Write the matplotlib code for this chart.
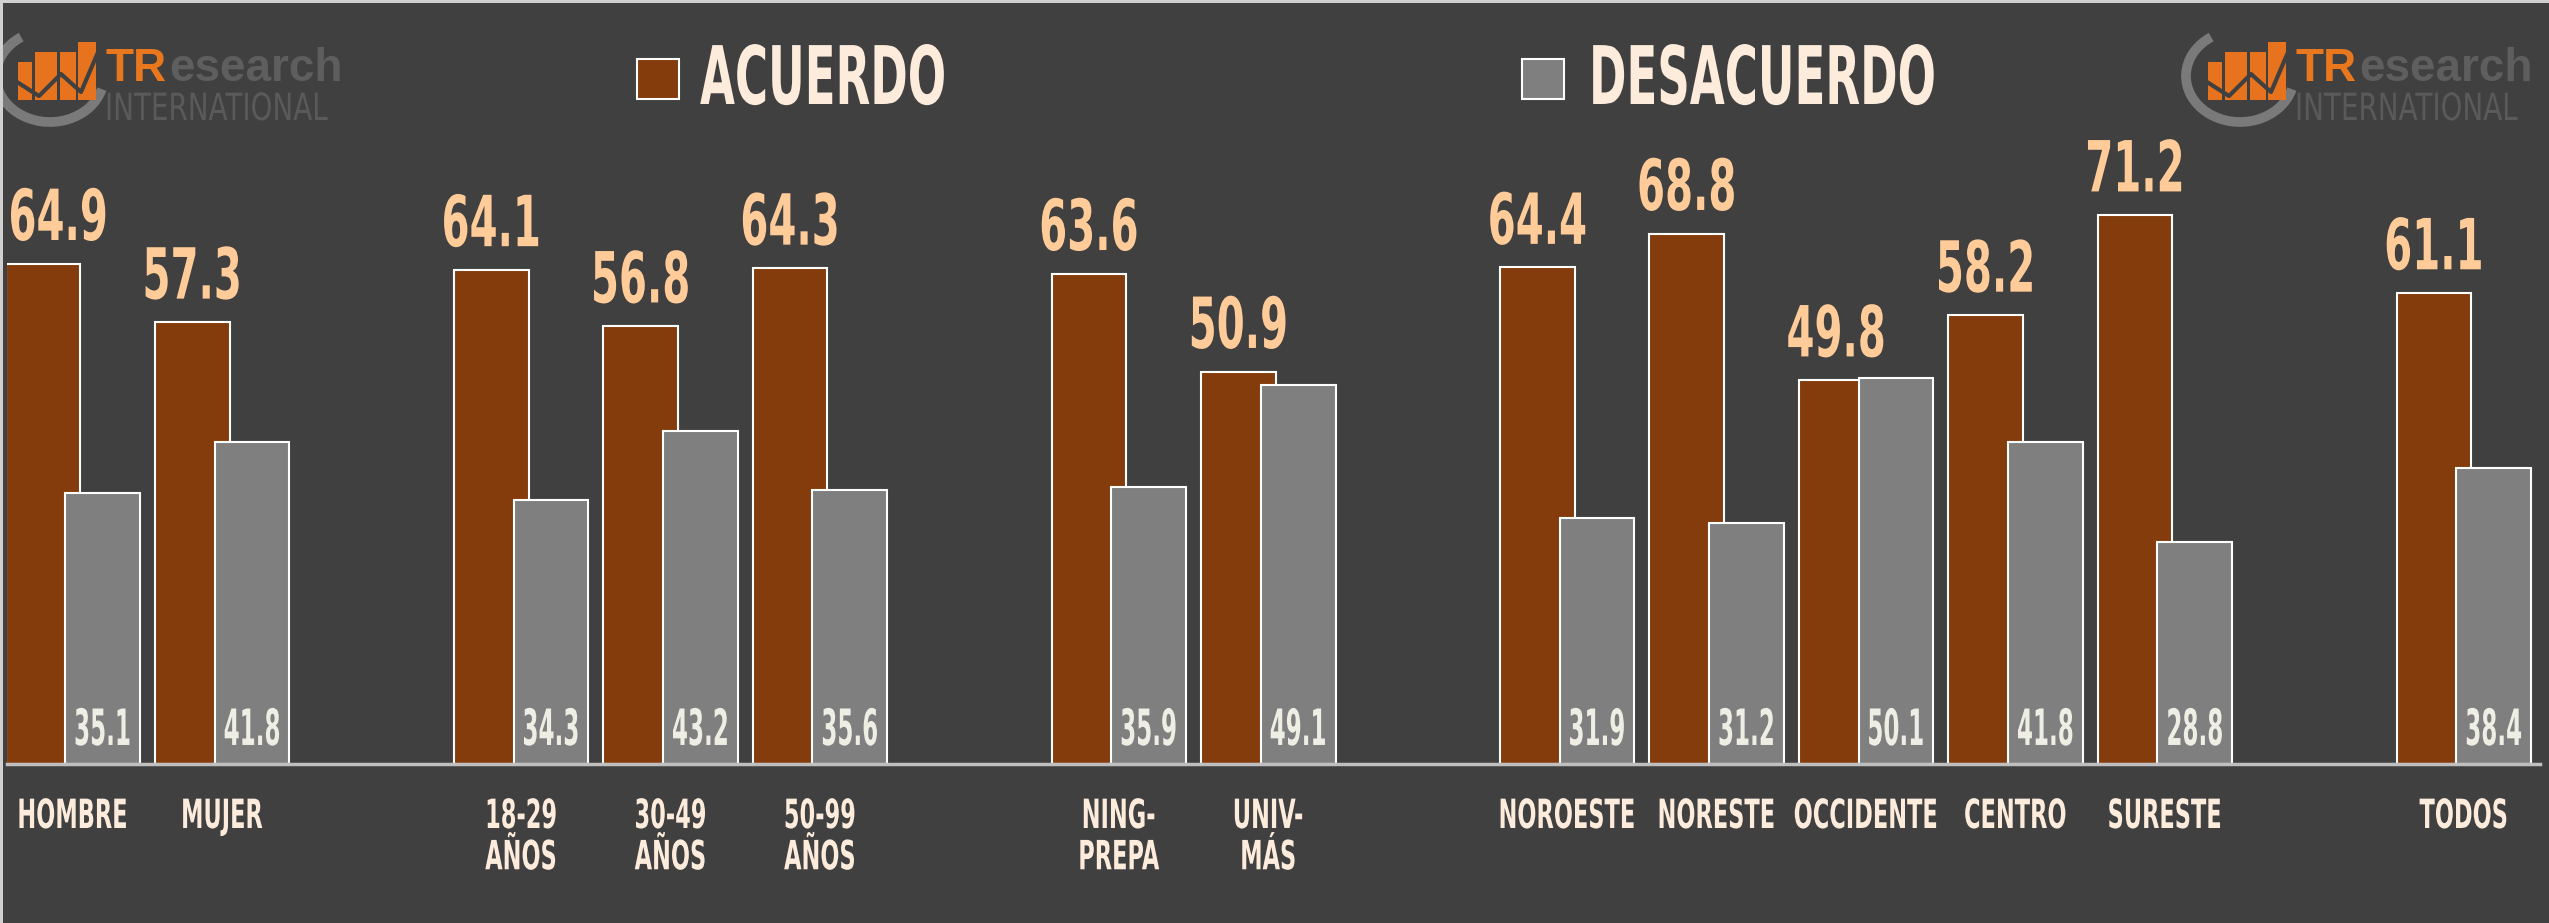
import matplotlib
matplotlib.use('Agg')
import matplotlib.pyplot as plt
from matplotlib.patches import Rectangle, Arc
from matplotlib.patheffects import AbstractPathEffect
from matplotlib.transforms import Affine2D
import numpy as np

# data
categories = ['HOMBRE', 'MUJER', '18-29\nAÑOS', '30-49\nAÑOS', '50-99\nAÑOS',
              'NING-\nPREPA', 'UNIV-\nMÁS', 'NOROESTE', 'NORESTE', 'OCCIDENTE',
              'CENTRO', 'SURESTE', 'TODOS']
slots = [0, 1, 3, 4, 5, 7, 8, 10, 11, 12, 13, 14, 16]
acuerdo = [64.9, 57.3, 64.1, 56.8, 64.3, 63.6, 50.9, 64.4, 68.8, 49.8, 58.2, 71.2, 61.1]
desacuerdo = [35.1, 41.8, 34.3, 43.2, 35.6, 35.9, 49.1, 31.9, 31.2, 50.1, 41.8, 28.8, 38.4]
series_names = ['ACUERDO', 'DESACUERDO']

W, H = 2549, 923
BG = '#404040'
BROWN = '#843C0C'
GRAY = '#7F7F7F'
PEACH = '#FFCC99'
CREAM = '#FDEBDC'
FONT = 'DejaVu Sans'


class Tall(AbstractPathEffect):
    """Stretch glyphs upward from their baseline (the original uses a tall condensed face)."""

    def __init__(self, sy):
        super().__init__()
        self.sy = sy

    def draw_path(self, renderer, gc, tpath, affine, rgbFace=None):
        by = affine.transform_point((0, 0))[1]
        aff = affine + Affine2D().translate(0, -by).scale(1, self.sy).translate(0, by)
        renderer.draw_path(gc, tpath, aff, rgbFace)


def fx(x):
    return x / W


def fy(y):
    return 1 - y / H


fig = plt.figure(figsize=(W / 100, H / 100), dpi=100, facecolor=BG)

# plot area: baseline at y=764 px, ~7.71 px per unit
ax = fig.add_axes([fx(7), fy(764), fx(2540) - fx(7), 764 / H])
ax.set_facecolor(BG)
ax.set_xlim(-0.44, 16.51)
ax.set_ylim(0, 764 / 7.71)
ax.axis('off')

x = np.array(slots, dtype=float)
ax.bar(x - 0.2, acuerdo, width=0.5, color=BROWN, edgecolor='white', linewidth=1.5, zorder=2)
ax.bar(x + 0.2, desacuerdo, width=0.5, color=GRAY, edgecolor='white', linewidth=1.5, zorder=3)
ax.axhline(0, color='#BFBFBF', lw=2.5, zorder=4, clip_on=False)

for xi, v in zip(x, acuerdo):
    xl, ha = xi - 0.2, 'center'
    if xl - 0.34 < -0.44:
        xl, ha = -0.43, 'left'
    ax.annotate(f'{v:.1f}', (xl, v), xytext=(0, 17), textcoords='offset points',
                ha=ha, va='baseline', fontsize=29, fontweight='bold',
                color=PEACH, family=FONT, path_effects=[Tall(1.75)])

for xi, v in zip(x, desacuerdo):
    ax.annotate(f'{v:.1f}', (xi + 0.2, 0), xytext=(0, 13.7), textcoords='offset points',
                ha='center', va='baseline', fontsize=16.6, fontweight='bold',
                color='#EEEEE4', family=FONT, zorder=5, path_effects=[Tall(2.17)])

for xi, cat in zip(x, categories):
    ax.annotate(cat, xy=(xi, H - 812), xycoords=('data', 'figure pixels'),
                ha='center', va='top', fontsize=16.2, fontweight='bold', color=CREAM,
                family=FONT, linespacing=2.33, annotation_clip=False,
                path_effects=[Tall(1.79)])

# legend
for (lx, tx), name, col in zip([(637, 700), (1522, 1589)], series_names, [BROWN, GRAY]):
    fig.patches.append(Rectangle((fx(lx), fy(99)), fx(42), 40 / H, facecolor=col,
                                 edgecolor='white', lw=1.5, transform=fig.transFigure))
    fig.text(fx(tx), fy(104), name, ha='left', va='baseline', fontsize=32.5,
             fontweight='bold', color=CREAM, family=FONT, path_effects=[Tall(1.79)])


# logos
def logo(x0):
    arc = Arc((fx(x0 - 55), fy(76)), 108 / W, 92 / H, theta1=105, theta2=325,
              color='#7A7A7A', lw=7, transform=fig.transFigure)
    fig.patches.append(arc)
    for bx0, bx1, by in [(-87, -73, 62), (-70, -48, 52), (-45, -29, 52), (-27, -9, 42)]:
        fig.patches.append(Rectangle((fx(x0 + bx0), fy(100)), fx(bx1 - bx0), (100 - by) / H,
                                     facecolor='#E8731F', edgecolor='none',
                                     transform=fig.transFigure))
    zx = [x0 - 88, x0 - 66, x0 - 44, x0 - 24, x0 - 6]
    zy = [82, 96, 74, 92, 50]
    fig.lines.append(plt.Line2D([fx(v) for v in zx], [fy(v) for v in zy],
                                color=BG, lw=3, transform=fig.transFigure))
    fig.text(fx(x0), fy(81), 'TR', ha='left', va='baseline', fontsize=33,
             fontweight='bold', color='#E8771E', family='Liberation Sans')
    fig.text(fx(x0 + 64), fy(81), 'esearch', ha='left', va='baseline', fontsize=33,
             fontweight='bold', color='#5E5E5E', family='Liberation Sans')
    fig.text(fx(x0), fy(120), 'INTERNATIONAL', ha='left', va='baseline', fontsize=20,
             color='#5A5A5A', family=FONT, path_effects=[Tall(1.35)])


logo(105)
logo(2295)

# light frame on top and left edges
fig.patches.append(Rectangle((0, fy(3)), 1, 3 / H, facecolor='#D0D0D0', edgecolor='none',
                             transform=fig.transFigure))
fig.patches.append(Rectangle((0, 0), fx(3), 1, facecolor='#D0D0D0', edgecolor='none',
                             transform=fig.transFigure))

fig.savefig('out.png', dpi=100, facecolor=BG)
